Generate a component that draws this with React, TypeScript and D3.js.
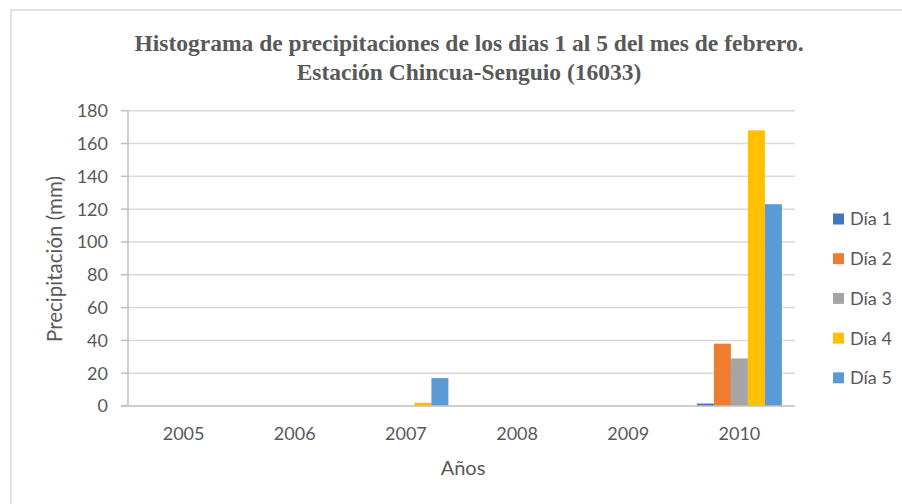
import React from "react";
import * as d3 from "d3";

const years = ["2005", "2006", "2007", "2008", "2009", "2010"];
const seriesNames = ["Día 1", "Día 2", "Día 3", "Día 4", "Día 5"];
const dia1 = [0, 0, 0, 0, 0, 1.5];
const dia2 = [0, 0, 0, 0, 0, 38];
const dia3 = [0, 0, 0, 0, 0, 29];
const dia4 = [0, 0, 2, 0, 0, 168];
const dia5 = [0, 0, 17, 0, 0, 123];
const yTicks = [0, 20, 40, 60, 80, 100, 120, 140, 160, 180];
const colors = ["#4472C4", "#ED7D31", "#A5A5A5", "#FFC000", "#5B9BD5"];

const series = [dia1, dia2, dia3, dia4, dia5];

const W = 902;
const H = 504;
const plot = { left: 128, right: 795, top: 110.7, bottom: 406 };
const FONT = "Lato, 'Open Sans', sans-serif";
const TXT = "#595959";

export default function App() {
  const x = d3.scaleBand<string>().domain(years).range([plot.left, plot.right]).paddingInner(0).paddingOuter(0);
  const y = d3.scaleLinear().domain([0, 180]).range([plot.bottom, plot.top]);
  const inner = d3
    .scaleBand<string>()
    .domain(seriesNames)
    .range([0, x.bandwidth()])
    .paddingInner(0)
    .paddingOuter(0.77);

  return (
    <svg
      width={W}
      height={H}
      style={{ position: "absolute", left: 0, top: 0, background: "#fff" }}
    >
      <rect x={11} y={10} width={W} height={H} fill="#fff" stroke="#d9d9d9" strokeWidth={1.5} />
      <text
        x={469}
        y={51}
        textAnchor="middle"
        fontFamily="'Liberation Serif', 'Times New Roman', serif"
        fontWeight="bold"
        fontSize={23.5}
        fill={TXT}
      >
        Histograma de precipitaciones de los dias 1 al 5 del mes de febrero.
      </text>
      <text
        x={469}
        y={80}
        textAnchor="middle"
        fontFamily="'Liberation Serif', 'Times New Roman', serif"
        fontWeight="bold"
        fontSize={23.5}
        fill={TXT}
      >
        Estación Chincua-Senguio (16033)
      </text>

      {yTicks.map((t) => (
        <g key={t}>
          {t > 0 && (
            <line x1={plot.left} x2={plot.right} y1={y(t)} y2={y(t)} stroke="#d9d9d9" strokeWidth={1.5} />
          )}
          <line x1={121} x2={plot.left} y1={y(t)} y2={y(t)} stroke="#bfbfbf" strokeWidth={1.5} />
          <text x={108} y={y(t)} dy="0.36em" textAnchor="end" fontFamily={FONT} fontSize={18} fill={TXT}>
            {t}
          </text>
        </g>
      ))}

      {years.map((yr, i) => (
        <g key={yr}>
          {series.map((s, j) => {
            const v = s[i];
            if (v <= 0) return null;
            const bx = (x(yr) as number) + (inner(seriesNames[j]) as number);
            return (
              <rect
                key={j}
                x={bx}
                y={y(v)}
                width={inner.bandwidth()}
                height={y(0) - y(v)}
                fill={colors[j]}
              />
            );
          })}
          <text
            x={(x(yr) as number) + x.bandwidth() / 2}
            y={440}
            textAnchor="middle"
            fontFamily={FONT}
            fontSize={18}
            fill={TXT}
          >
            {yr}
          </text>
        </g>
      ))}

      <line x1={plot.left} x2={plot.left} y1={plot.top} y2={plot.bottom} stroke="#bfbfbf" strokeWidth={1.5} />
      <line x1={121} x2={plot.right} y1={plot.bottom} y2={plot.bottom} stroke="#bfbfbf" strokeWidth={1.5} />

      <text
        transform={`translate(62, 259) rotate(-90)`}
        textAnchor="middle"
        fontFamily={FONT}
        fontSize={20.5}
        fill={TXT}
      >
        Precipitación (mm)
      </text>
      <text x={463} y={475} textAnchor="middle" fontFamily={FONT} fontSize={20}  fill={TXT}>
        Años
      </text>

      {seriesNames.map((n, j) => {
        const cy = 219 + j * 39.7;
        return (
          <g key={n}>
            <rect x={833} y={cy - 5.5} width={11} height={11} fill={colors[j]} />
            <text x={850} y={cy} dy="0.36em" fontFamily={FONT} fontSize={18} fill={TXT}>
              {n}
            </text>
          </g>
        );
      })}
    </svg>
  );
}
